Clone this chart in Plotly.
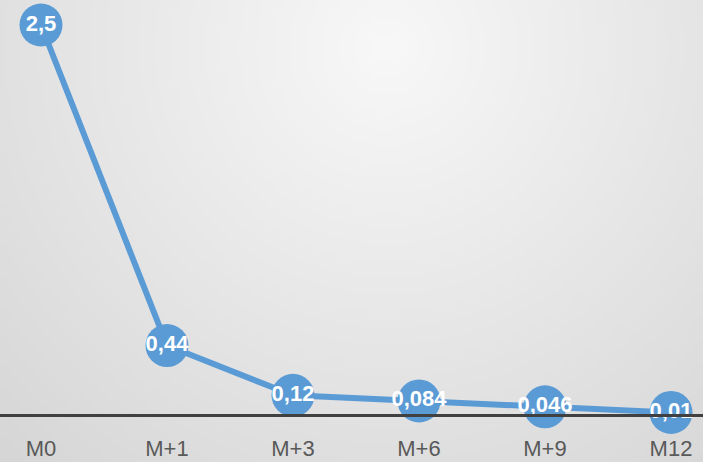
import base64, struct, zlib
import numpy as np
import plotly.graph_objects as go

categories = ["M0", "M+1", "M+3", "M+6", "M+9", "M12"]
values = [2.5, 0.44, 0.12, 0.084, 0.046, 0.01]
labels = [str(v).replace(".", ",") for v in values]

W, H = 703, 462

# radial gradient background as PNG (full page size, scaled down)
def make_png(w, h, scale):
    yy, xx = np.mgrid[0:h, 0:w] * scale
    cx, cy, r = 385.0, 46.0, 600.0
    d = np.sqrt((xx - cx) ** 2 + (yy - cy) ** 2) / r
    d = np.clip(d, 0, 1)
    c = (248 - (248 - 212) * d).astype(np.uint8)
    raw = b"".join(b"\x00" + bytes(np.repeat(row, 3)) for row in c)
    def chunk(t, data):
        ch = t + data
        return struct.pack(">I", len(data)) + ch + struct.pack(">I", zlib.crc32(ch) & 0xFFFFFFFF)
    png = b"\x89PNG\r\n\x1a\n" + chunk(b"IHDR", struct.pack(">IIBBBBB", w, h, 8, 2, 0, 0, 0)) \
        + chunk(b"IDAT", zlib.compress(raw, 9)) + chunk(b"IEND", b"")
    return "data:image/png;base64," + base64.b64encode(png).decode()

bg = make_png(176, 116, 4.0)

font = "Liberation Sans Narrow, Arial Narrow, Liberation Sans, sans-serif"
blue = "#5B9BD5"
fig = go.Figure()
fig.add_trace(go.Scatter(
    x=categories, y=values, mode="lines+markers+text",
    line=dict(color=blue, width=6),
    marker=dict(size=43, color=blue, line=dict(width=0)),
    text=labels, textposition="middle center",
    textfont=dict(family=font, size=22, color="white", weight="bold"),
    cliponaxis=False, hoverinfo="skip",
))

bottom = 48
plot_h = H - bottom
step = 126.0
r0 = -41 / step
fig.update_layout(
    width=W, height=H,
    margin=dict(l=0, r=0, t=0, b=bottom),
    paper_bgcolor="#d8d8d8", plot_bgcolor="rgba(0,0,0,0)",
    showlegend=False,
    images=[dict(source=bg, xref="paper", yref="paper", x=0, y=1, sizex=1, sizey=H / plot_h,
                 xanchor="left", yanchor="top", sizing="stretch", layer="below")],
    xaxis=dict(type="category", range=[r0, r0 + W / step], showgrid=False, zeroline=False,
               showline=True, linecolor="#404040", linewidth=3, ticks="",
               tickfont=dict(family=font, size=22, color="#595959"),
               ticklabelstandoff=13),
    yaxis=dict(range=[0, plot_h / 155.6], visible=False, showgrid=False, zeroline=False),
)
fig.write_html("out.html", config={"displayModeBar": False},
               post_script="document.body.style.margin='0';document.body.style.overflow='hidden';")
